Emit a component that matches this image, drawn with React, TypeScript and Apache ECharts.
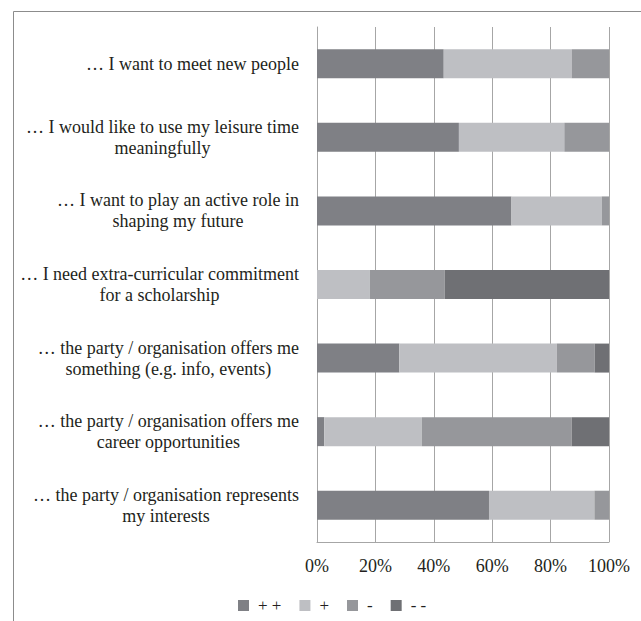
import React, { useEffect, useRef } from "react";
import * as echarts from "echarts";

const categories = [
  "… I want to meet new people",
  "… I would like to use my leisure time\nmeaningfully",
  "… I want to play an active role in\nshaping my future",
  "… I need extra-curricular commitment\nfor a scholarship",
  "… the party / organisation offers me\nsomething (e.g. info, events)",
  "… the party / organisation offers me\ncareer opportunities",
  "… the party / organisation represents\nmy interests",
];
const seriesNames = ["+ +", "+", "-", "- -"];
const plusPlus = [43.4, 48.6, 66.6, 0, 28.2, 2.5, 58.9];
const plus = [43.8, 36.1, 30.9, 18.1, 53.9, 33.4, 36.1];
const minus = [12.8, 15.3, 2.5, 25.6, 13.0, 51.3, 5.0];
const minusMinus = [0, 0, 0, 56.3, 4.9, 12.8, 0];
const xTicks = [0, 20, 40, 60, 80, 100];

const colors = ["#7f8085", "#bebfc3", "#96979b", "#6f7074"];

export default function App() {
  const ref = useRef<HTMLDivElement>(null);
  useEffect(() => {
    document.body.style.margin = "0";
    if (!ref.current) return;
    const chart = echarts.init(ref.current, undefined, { renderer: "svg" });
    const values = [plusPlus, plus, minus, minusMinus];
    const font = "Liberation Serif";
    chart.setOption({
      animation: false,
      textStyle: { fontFamily: font },
      graphic: [
        {
          type: "rect",
          shape: { x: 13.5, y: 11.5, width: 800, height: 800 },
          style: { fill: "none", stroke: "#8c8c8c", lineWidth: 1 },
          silent: true,
        },
      ],
      grid: { left: 317, right: 32, top: 27, bottom: 79, containLabel: false },
      xAxis: {
        type: "value",
        min: xTicks[0],
        max: xTicks[xTicks.length - 1],
        interval: 20,
        axisLine: { show: true, lineStyle: { color: "#a6a6a6", width: 1 } },
        axisTick: { show: false },
        splitLine: { show: true, lineStyle: { color: "#a6a6a6", width: 1 } },
        axisLabel: {
          formatter: (v: number) => v + "%",
          color: "#231f20",
          fontSize: 18,
          fontFamily: font,
          margin: 15,
        },
      },
      yAxis: {
        type: "category",
        data: categories,
        inverse: true,
        axisLine: { show: true, lineStyle: { color: "#a6a6a6", width: 1 } },
        axisTick: { show: false },
        axisLabel: {
          color: "#231f20",
          fontSize: 18,
          fontFamily: font,
          margin: 18,
          lineHeight: 21,
          formatter: (v: string) =>
            v
              .split("\n")
              .map((l) => "{c|" + l + "}")
              .join("\n"),
          rich: {
            c: {
              align: "center",
              fontSize: 18,
              fontFamily: font,
              color: "#231f20",
              lineHeight: 21,
            },
          },
        },
      },
      legend: {
        left: 238,
        top: 597,
        padding: 0,
        itemWidth: 11,
        itemHeight: 11,
        itemGap: 18,
        icon: "rect",
        textStyle: {
          color: "#231f20",
          fontSize: 17,
          fontFamily: font,
          padding: [0, 0, 0, 4],
        },
        data: seriesNames,
      },
      series: seriesNames.map((name, i) => ({
        name,
        type: "bar",
        stack: "total",
        data: values[i],
        barWidth: 29,
        itemStyle: { color: colors[i] },
      })),
    });
    return () => chart.dispose();
  }, []);
  return <div ref={ref} style={{ width: 641, height: 621 }} />;
}
